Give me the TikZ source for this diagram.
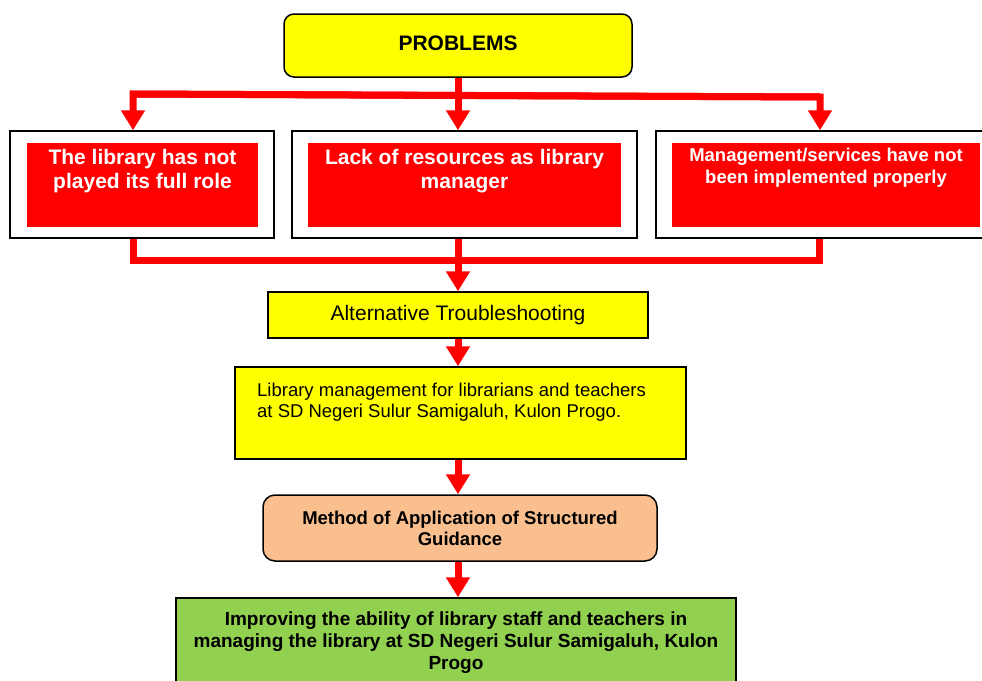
\documentclass[tikz,border=0pt]{standalone}
\usepackage{fontspec}
\setmainfont{Liberation Sans}
\usepackage{xcolor}
\usetikzlibrary{shapes,arrows,arrows.meta,positioning,calc}

\definecolor{boxyellow}{HTML}{FFFF00}
\definecolor{boxred}{HTML}{FF0000}
\definecolor{boxpeach}{HTML}{F9BF8F}
\definecolor{boxgreen}{HTML}{92D050}

\begin{document}
\begin{tikzpicture}[x=1pt, y=-1pt,
    box/.style={rectangle, draw=black, line width=1.5pt, inner sep=0pt, font=\fontsize{18.5}{21}\selectfont},
    probbox/.style={box, fill=white},
    redbox/.style={rectangle, fill=boxred, inner sep=0pt},
    redtext/.style={inner sep=0pt, text=white, align=center, font=\bfseries\fontsize{21}{24}\selectfont},
    flow/.style={draw=boxred, line width=7pt},
    tip/.style={-{Triangle[width=23pt, length=20pt]}}
]
    \clip (0,0) rectangle (982,680);

    % Main problem
    \node[box, fill=boxyellow, rounded corners=10pt, minimum width=348pt, minimum height=63pt,
          font=\bfseries\fontsize{21}{24}\selectfont] (probs) at (458,45.5) {\raisebox{4pt}{PROBLEMS}};

    % Problem boxes
    \node[probbox, minimum width=264pt, minimum height=107pt] (b1) at (142,184.5) {};
    \node[probbox, minimum width=345pt, minimum height=107pt] (b2) at (464.5,184.5) {};
    \node[probbox, minimum width=328pt, minimum height=107pt] (b3) at (820,184.5) {};
    \node[redbox, minimum width=231pt, minimum height=84pt] (r1) at (142.5,185) {};
    \node[redbox, minimum width=313pt, minimum height=84pt] (r2) at (464.5,185) {};
    \node[redbox, minimum width=308pt, minimum height=84pt] (r3) at (826,185) {};
    \node[redtext, below=6pt of r1.north] (t1) {The library has not\\played its full role};
    \node[redtext, below=6pt of r2.north] (t2) {Lack of resources as library\\manager};
    \node[redtext, below=5pt of r3.north, font=\bfseries\fontsize{18.5}{22}\selectfont] (t3)
        {Management/services have not\\been implemented properly};

    % Solution chain
    \node[box, fill=boxyellow, minimum width=380pt, minimum height=46pt,
          font=\fontsize{21}{24}\selectfont] (alt) at (458,315) {\raisebox{-3pt}{Alternative Troubleshooting}};
    \node[box, fill=boxyellow, minimum width=451pt, minimum height=92pt] (lib) at (460.5,413) {};
    \node[inner sep=0pt, anchor=north west, align=left, font=\fontsize{18.5}{21}\selectfont] (libt) at (257,383)
        {Library management for librarians and teachers\\at SD Negeri Sulur Samigaluh, Kulon Progo.};
    \node[box, fill=boxpeach, rounded corners=12pt, minimum width=394pt, minimum height=66pt, align=center,
          font=\bfseries\fontsize{18.5}{21}\selectfont] (meth) at (460,528)
        {Method of Application of Structured\\Guidance};
    \node[box, fill=boxgreen, minimum width=560pt, minimum height=104pt] (goal) at (456,650) {};
    \node[inner sep=0pt, align=center, below=14pt of goal.north, font=\bfseries\fontsize{19}{22}\selectfont] (goalt)
        {Improving the ability of library staff and teachers in\\managing the library at SD Negeri Sulur Samigaluh, Kulon\\Progo};

    % Branches from the problem
    \coordinate (tl) at (133,94);
    \coordinate (tm) at (458,95.5);
    \coordinate (tr) at (820,97);
    \draw[flow] (tl) -- (tr);
    \draw[flow, tip] (probs.south) -- (probs.south |- b2.north);
    \draw[flow, tip] (tm) -- (tl) -- (tl |- b1.north);
    \draw[flow, tip] (tm) -- (tr) -- (tr |- b3.north);

    % Merge into the solution
    \coordinate (bl) at (133,260);
    \coordinate (bm) at (458,260);
    \coordinate (br) at (819,260);
    \draw[flow] (bl |- b1.south) -- (bl) -- (br) -- (br |- b3.south);
    \draw[flow, tip] (bm |- b2.south) -- (bm |- alt.north);

    % Chain arrows
    \draw[flow, tip] (alt.south) -- (alt.south |- lib.north);
    \draw[flow, tip] (alt.south |- lib.south) -- (alt.south |- meth.north);
    \draw[flow, tip] (alt.south |- meth.south) -- (alt.south |- goal.north);
\end{tikzpicture}
\end{document}
